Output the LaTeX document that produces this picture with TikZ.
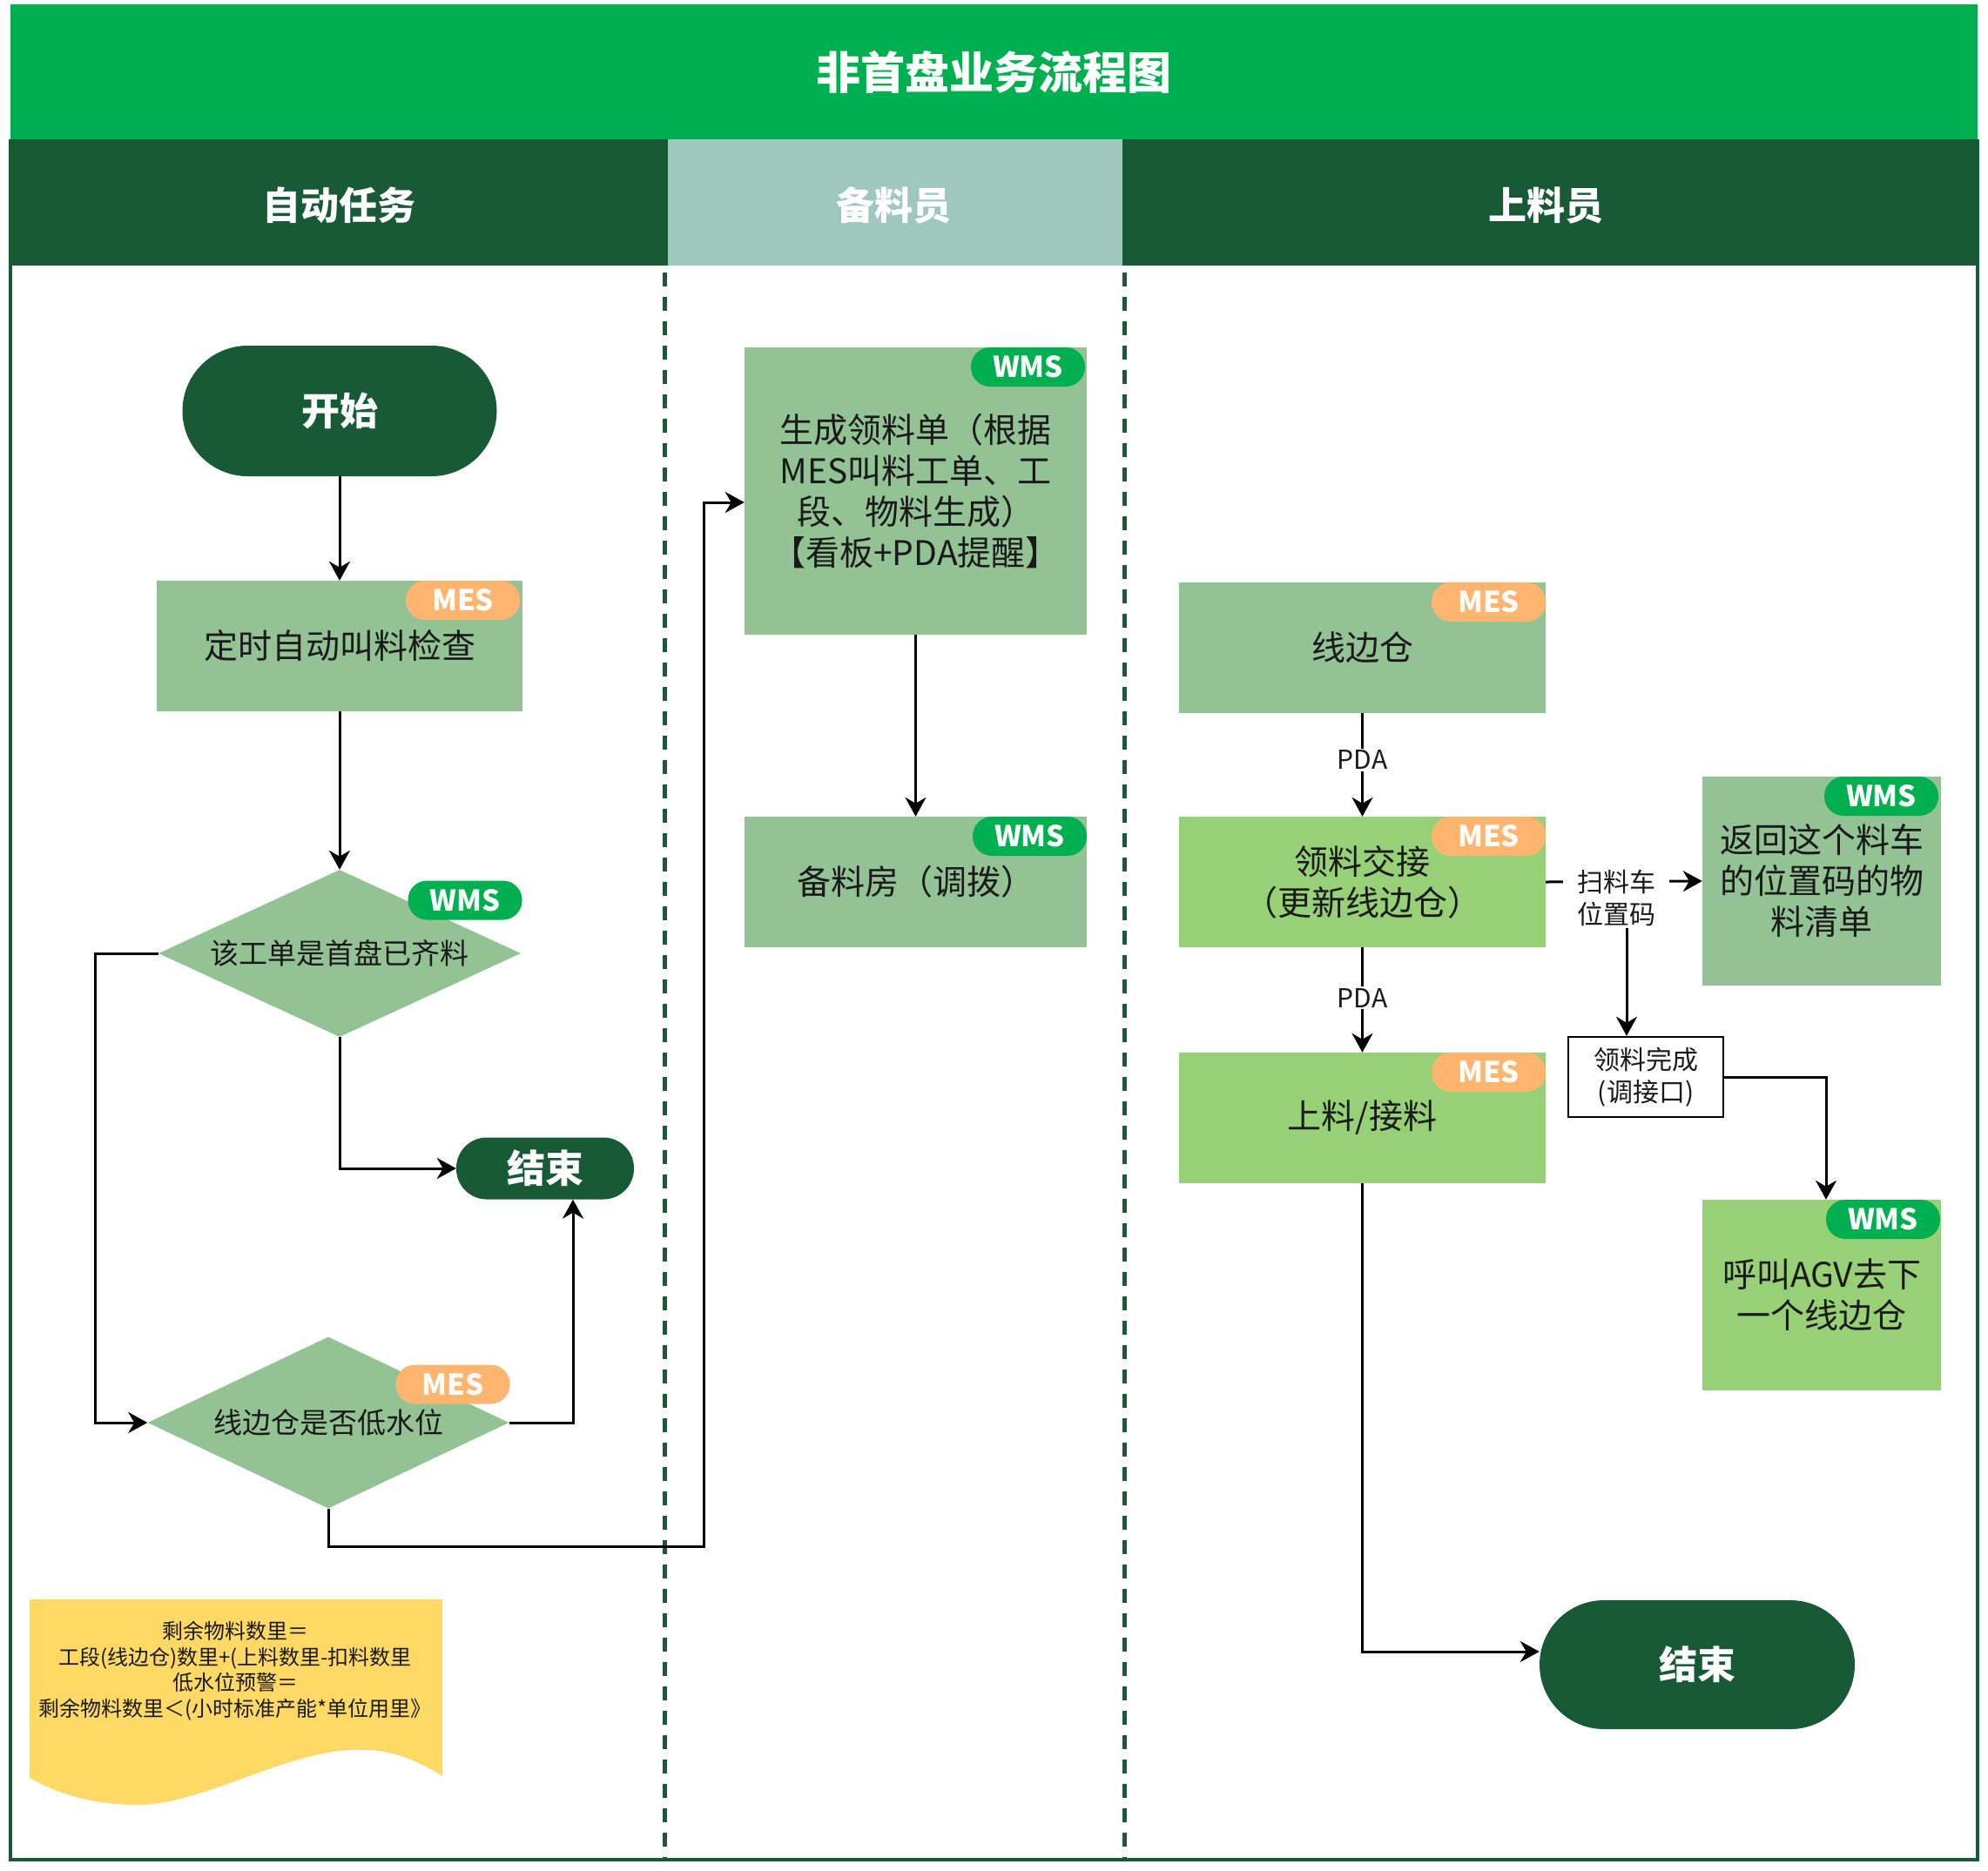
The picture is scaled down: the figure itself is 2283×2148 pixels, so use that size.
\documentclass[tikz,border=0pt]{standalone}
\usepackage{fontspec}
\setmainfont{Noto Sans CJK SC}
\usetikzlibrary{arrows.meta,shapes.geometric,calc}
\definecolor{titleg}{HTML}{00B050}
\definecolor{dkg}{HTML}{185A36}
\definecolor{midh}{HTML}{9EC8BD}
\definecolor{sage}{HTML}{93C394}
\definecolor{lime}{HTML}{97D077}
\definecolor{mesor}{HTML}{FFB570}
\definecolor{wmsg}{HTML}{00B050}
\definecolor{notey}{HTML}{FFD966}
\definecolor{txt}{HTML}{1A1A1A}
\begin{document}
\begin{tikzpicture}[x=1pt,y=-1pt,
  box/.style={rectangle, minimum width=421pt, minimum height=150pt, inner sep=0pt, align=center, text=txt, font=\fontsize{39}{47}\selectfont},
  sagebox/.style={box, fill=sage},
  limebox/.style={box, fill=lime},
  pill/.style={rectangle, rounded corners=22pt, minimum width=131pt, minimum height=45pt, inner sep=0pt, text=white, font=\bfseries\fontsize{33}{33}\selectfont},
  mes/.style={pill, fill=mesor},
  wms/.style={pill, fill=wmsg},
  term/.style={rectangle, fill=dkg, text=white, inner sep=0pt, font=\bfseries\fontsize{44}{44}\selectfont},
  dia/.style={diamond, aspect=2.17, fill=sage, inner sep=0pt, minimum width=416pt, minimum height=192pt, text=txt, font=\fontsize{33}{40}\selectfont},
  conn/.style={line width=3pt, -{Stealth[length=22pt,width=24pt,inset=7pt]}},
  lbl/.style={fill=white, inner xsep=6pt, inner ysep=2pt, text=txt, font=\fontsize{30}{37}\selectfont, align=center},
  lane/.style={dkg, line width=5pt, dash pattern=on 16pt off 12pt},
  hdr/.style={text=white, font=\bfseries\fontsize{44}{44}\selectfont}
]
\useasboundingbox (0,0) rectangle (2283,2148);
% bands
\fill[titleg] (12,5) rectangle (2271,160);
\fill[dkg] (12,160) rectangle (767,305);
\fill[midh] (767,160) rectangle (1289,305);
\fill[dkg] (1289,160) rectangle (2271,305);
\draw[dkg, line width=4pt] (12,160) -- (12,2136) -- (2271,2136) -- (2271,160);
\node[text=white, font=\bfseries\fontsize{51}{51}\selectfont] (title) at (1141,83) {非首盘业务流程图};
\node[hdr] (h1) at (389,236) {自动任务};
\node[hdr] (h2) at (1026,236) {备料员};
\node[hdr] (h3) at (1775,236) {上料员};
% lane dividers
\draw[lane] (763,313) -- (763,2134);
\draw[lane] (1291,313) -- (1291,2134);

% left lane
\node[term, minimum width=361pt, minimum height=150pt, rounded corners=75pt] (start) at (390,472) {开始};
\node[sagebox, minimum width=420pt] (timer) at (390,742) {定时自动叫料检查};
\node[mes, anchor=north east] (timertag) at ([xshift=-3pt]timer.north east) {MES};
\node[dia] (d1) at (390,1095) {该工单是首盘已齐料};
\node[wms] (d1tag) at (534,1034) {WMS};
\node[term, minimum width=204pt, minimum height=71pt, rounded corners=35pt] (end1) at (626,1342) {结束};
\node[dia, minimum width=415pt, minimum height=197pt] (d2) at (377,1634) {线边仓是否低水位};
\node[mes] (d2tag) at (520,1590) {MES};

% note
\fill[notey] (34,1837) -- (508,1837) -- (508,2040)
  .. controls (470,2016) and (440,2008) .. (403,2010)
  .. controls (320,2014) and (230,2075) .. (153,2073)
  .. controls (100,2072) and (62,2058) .. (34,2042) -- cycle;
\node[align=center, text=txt, font=\fontsize{24}{29.5}\selectfont, inner sep=0pt] (note) at (270,1919)
  {剩余物料数里＝\\工段(线边仓)数里+(上料数里-扣料数里\\低水位预警＝\\剩余物料数里＜(小时标准产能*单位用里》};

% middle lane
\node[sagebox, minimum width=393pt, minimum height=330pt] (gen) at (1051.5,564)
  {生成领料单（根据\\MES叫料工单、工\\段、物料生成）\\【看板+PDA提醒】};
\node[wms, anchor=north east] (gentag) at ([xshift=-2pt]gen.north east) {WMS};
\node[sagebox, minimum width=393pt] (prep) at (1051.5,1013) {备料房（调拨）};
\node[wms, anchor=north east] (preptag) at (prep.north east) {WMS};

% right lane
\node[sagebox] (side) at (1564.5,744) {线边仓};
\node[mes, anchor=north east] (sidetag) at (side.north east) {MES};
\node[limebox] (hand) at (1564.5,1013) {领料交接\\（更新线边仓）};
\node[mes, anchor=north east] (handtag) at (hand.north east) {MES};
\node[limebox] (load) at (1564.5,1284) {上料/接料};
\node[mes, anchor=north east] (loadtag) at (load.north east) {MES};
\node[sagebox, minimum width=274pt, minimum height=240pt] (ret) at (2092,1012) {返回这个料车\\的位置码的物\\料清单};
\node[wms, anchor=north east] (rettag) at ([xshift=-3pt]ret.north east) {WMS};
\node[limebox, minimum width=274pt, minimum height=219pt] (call) at (2092,1487.5) {呼叫AGV去下\\一个线边仓};
\node[wms, anchor=north east] (calltag) at ([xshift=-1pt]call.north east) {WMS};
\node[draw=black, line width=2.5pt, fill=white, minimum width=178pt, minimum height=92pt, inner sep=0pt, align=center, text=txt, font=\fontsize{30}{37}\selectfont] (done) at (1890,1237) {领料完成\\(调接口)};
\node[term, minimum width=362pt, minimum height=148pt, rounded corners=74pt] (end2) at (1949,1912) {结束};

% connectors left
\draw[conn] (start.south) -- (timer.north);
\draw[conn] (timer.south) -- (d1.north);
\draw[conn] (d1.south) |- (end1.west);
\draw[conn] (d1.west) -- ++(-72,0) |- (d2.west);
\draw[conn] (d2.east) -| ([xshift=32pt]end1.south);
\draw[conn] (d2.south) |- (808,1776) |- ([yshift=-13pt]gen.west);
% middle
\draw[conn] (gen.south) -- (prep.north);
% right
\draw[conn] (side.south) -- node[lbl, pos=0.45] (pda1) {PDA} (hand.north);
\draw[conn] (hand.south) -- node[lbl, pos=0.48] (pda2) {PDA} (load.north);
\draw[conn] (hand.east) -- (ret.west);
\node[lbl, inner xsep=16pt] (scan) at (1856,1031) {扫料车\\位置码};
\draw[conn] ([xshift=12pt]scan.south) -- ([xshift=12pt]scan.south |- done.north);
\draw[conn] (done.east) -| ([xshift=5pt]call.north);
\draw[conn] (load.south) |- ([yshift=15pt]end2.west);
\end{tikzpicture}
\end{document}
